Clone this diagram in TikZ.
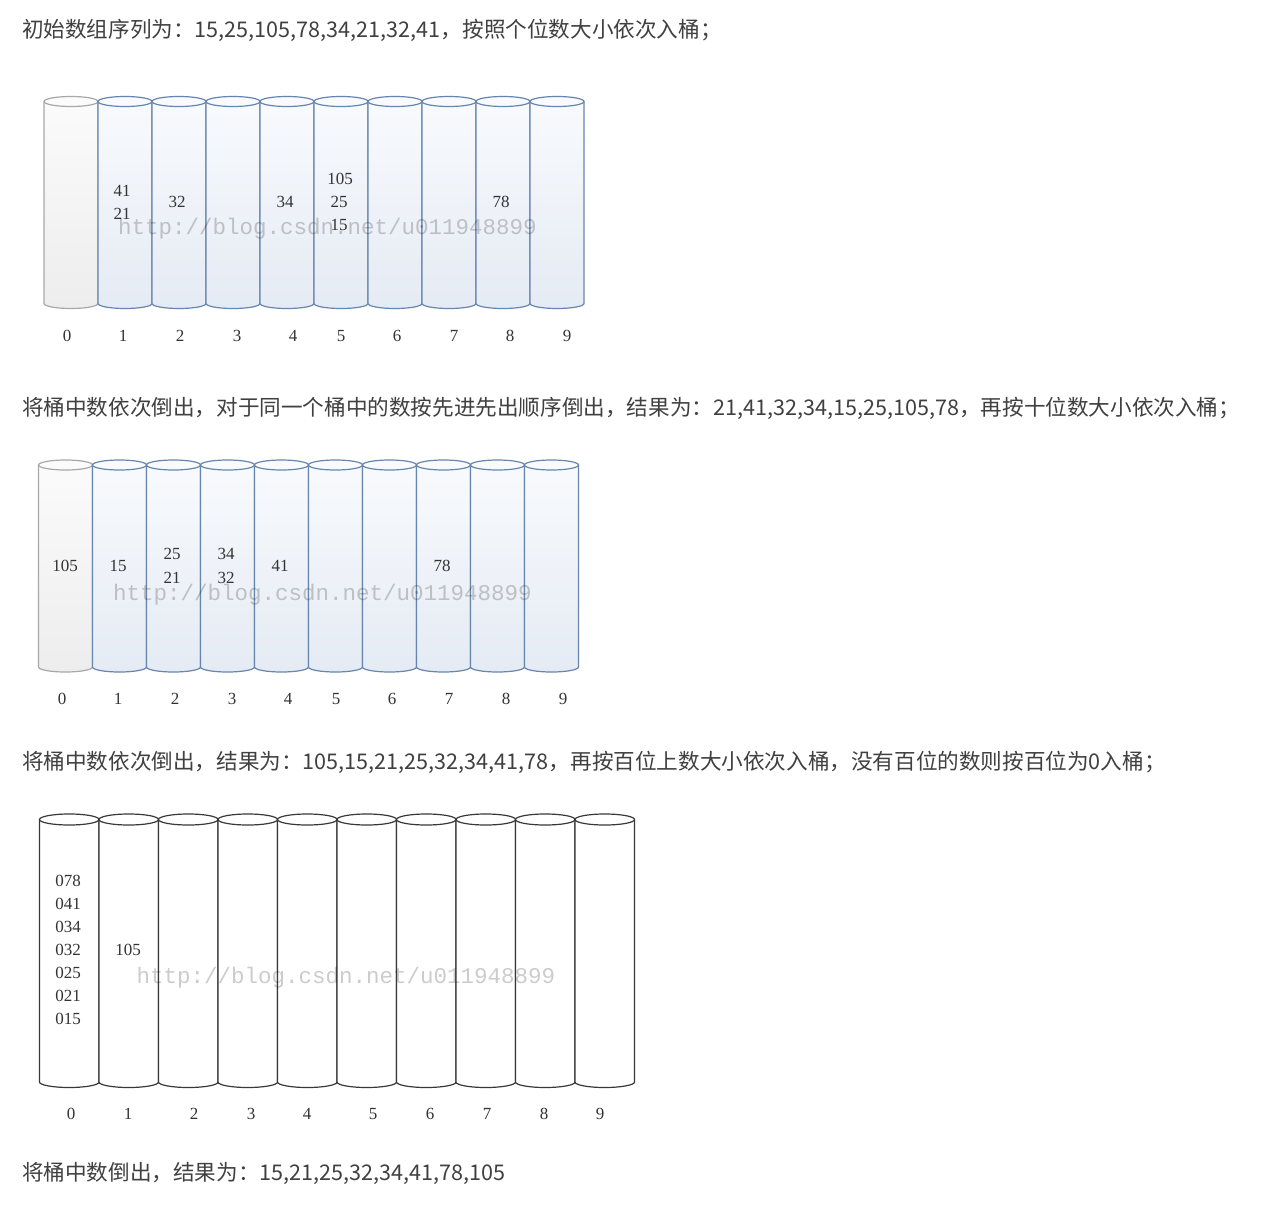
\documentclass[tikz,border=0pt]{standalone}
\usepackage{fontspec}
\setmainfont{Liberation Serif}
\newfontfamily\cjk{Noto Sans CJK SC}
\newfontfamily\wmfont{Liberation Mono}
\definecolor{headgray}{HTML}{404040}
\definecolor{grayline}{HTML}{A8A8A8}
\definecolor{graytop}{HTML}{FBFBFB}
\definecolor{graybot}{HTML}{EDEDED}
\definecolor{blueline}{HTML}{6786AE}
\definecolor{bluetop}{HTML}{F8FAFD}
\definecolor{bluebot}{HTML}{E5EBF4}
\definecolor{blackline}{HTML}{383838}
\definecolor{numgray}{HTML}{333333}
\newcommand\mycyl[8]{% #1 line, #2 top color, #3 bottom color, #4 x0, #5 w, #6 ytop, #7 ybot, #8 ry
  \pgfmathsetmacro\myrx{#5/2}
  \pgfmathsetmacro\mycx{#4+#5/2}
  \shade[top color=#2,bottom color=#3]
    (#4,#6) -- (#4,#7) arc[start angle=180,end angle=360,x radius=\myrx,y radius=#8] -- (#4+#5,#6) -- cycle;
  \draw[#1,line width=1.2pt]
    (#4,#6) -- (#4,#7) arc[start angle=180,end angle=360,x radius=\myrx,y radius=#8] -- (#4+#5,#6);
  \draw[#1,fill=#2,line width=1.2pt] (\mycx,#6) ellipse[x radius=\myrx,y radius=#8];
}
\tikzset{
  head/.style={anchor=west,inner sep=0pt,text=headgray,font=\cjk\fontsize{21.6}{25}\selectfont},
  num/.style={inner sep=0pt,text=numgray,font=\fontsize{17}{20}\selectfont},
  wm/.style={inner sep=0pt,text=black,opacity=0.2,font=\wmfont\fontsize{22.5}{24}\selectfont}
}
\begin{document}
\begin{tikzpicture}[x=1pt,y=1pt]
\useasboundingbox[fill=white] (0,0) rectangle (1264,-1207);

% headings
\node[head] (h1) at (22,-30.5) {初始数组序列为：15,25,105,78,34,21,32,41，按照个位数大小依次入桶；};
\node[head] (h2) at (22,-408.5) {将桶中数依次倒出，对于同一个桶中的数按先进先出顺序倒出，结果为：21,41,32,34,15,25,105,78，再按十位数大小依次入桶；};
\node[head] (h3) at (22,-762.5) {将桶中数依次倒出，结果为：105,15,21,25,32,34,41,78，再按百位上数大小依次入桶，没有百位的数则按百位为0入桶；};
\node[head] (h4) at (22,-1173.5) {将桶中数倒出，结果为：15,21,25,32,34,41,78,105};

% ---------- section 1 ----------
\mycyl{grayline}{graytop}{graybot}{44}{54}{-101.5}{-303.5}{5}
\foreach \i in {1,...,9}{
  \pgfmathsetmacro\xa{44+54*\i}
  \mycyl{blueline}{bluetop}{bluebot}{\xa}{54}{-101.5}{-303.5}{5}
}
\node[num] (a1a) at (122,-191) {41};
\node[num] (a1b) at (122,-214) {21};
\node[num] (a2) at (177,-202) {32};
\node[num] (a4) at (285,-202) {34};
\node[num] (a5a) at (340,-179) {105};
\node[num] (a5b) at (339,-202) {25};
\node[num] (a5c) at (339,-225) {15};
\node[num] (a8) at (501,-202) {78};
\foreach \x/\t in {67/0,123/1,180/2,237/3,293/4,341/5,397/6,454/7,510/8,567/9}{
  \node[num] (l1-\t) at (\x,-336) {\t};
}
\node[wm] (wm1) at (327.5,-229) {http://blog.csdn.net/u011948899};

% ---------- section 2 ----------
\mycyl{grayline}{graytop}{graybot}{38.5}{54}{-465}{-667}{5}
\foreach \i in {1,...,9}{
  \pgfmathsetmacro\xa{38.5+54*\i}
  \mycyl{blueline}{bluetop}{bluebot}{\xa}{54}{-465}{-667}{5}
}
\node[num] (b0) at (65,-566) {105};
\node[num] (b1) at (118,-566) {15};
\node[num] (b2a) at (172,-554) {25};
\node[num] (b2b) at (172,-578) {21};
\node[num] (b3a) at (226,-554) {34};
\node[num] (b3b) at (226,-578) {32};
\node[num] (b4) at (280,-566) {41};
\node[num] (b7) at (442,-566) {78};
\foreach \x/\t in {62/0,118/1,175/2,232/3,288/4,336/5,392/6,449/7,506/8,563/9}{
  \node[num] (l2-\t) at (\x,-699) {\t};
}
\node[wm] (wm2) at (322.5,-595) {http://blog.csdn.net/u011948899};

% ---------- section 3 ----------
\foreach \i in {0,...,9}{
  \pgfmathsetmacro\xa{39.5+59.5*\i}
  \mycyl{blackline}{white}{white}{\xa}{59.5}{-819.5}{-1082}{5.5}
}
\foreach \y/\t in {881/078,904/041,927/034,950/032,973/025,996/021,1019/015}{
  \node[num] (c0-\t) at (68,-\y) {\t};
}
\node[num] (c1) at (128,-950) {105};
\foreach \x/\t in {71/0,128/1,194/2,251/3,307/4,373/5,430/6,487/7,544/8,600/9}{
  \node[num] (l3-\t) at (\x,-1114) {\t};
}
\node[wm] (wm3) at (346,-978) {http://blog.csdn.net/u011948899};
\end{tikzpicture}
\end{document}
